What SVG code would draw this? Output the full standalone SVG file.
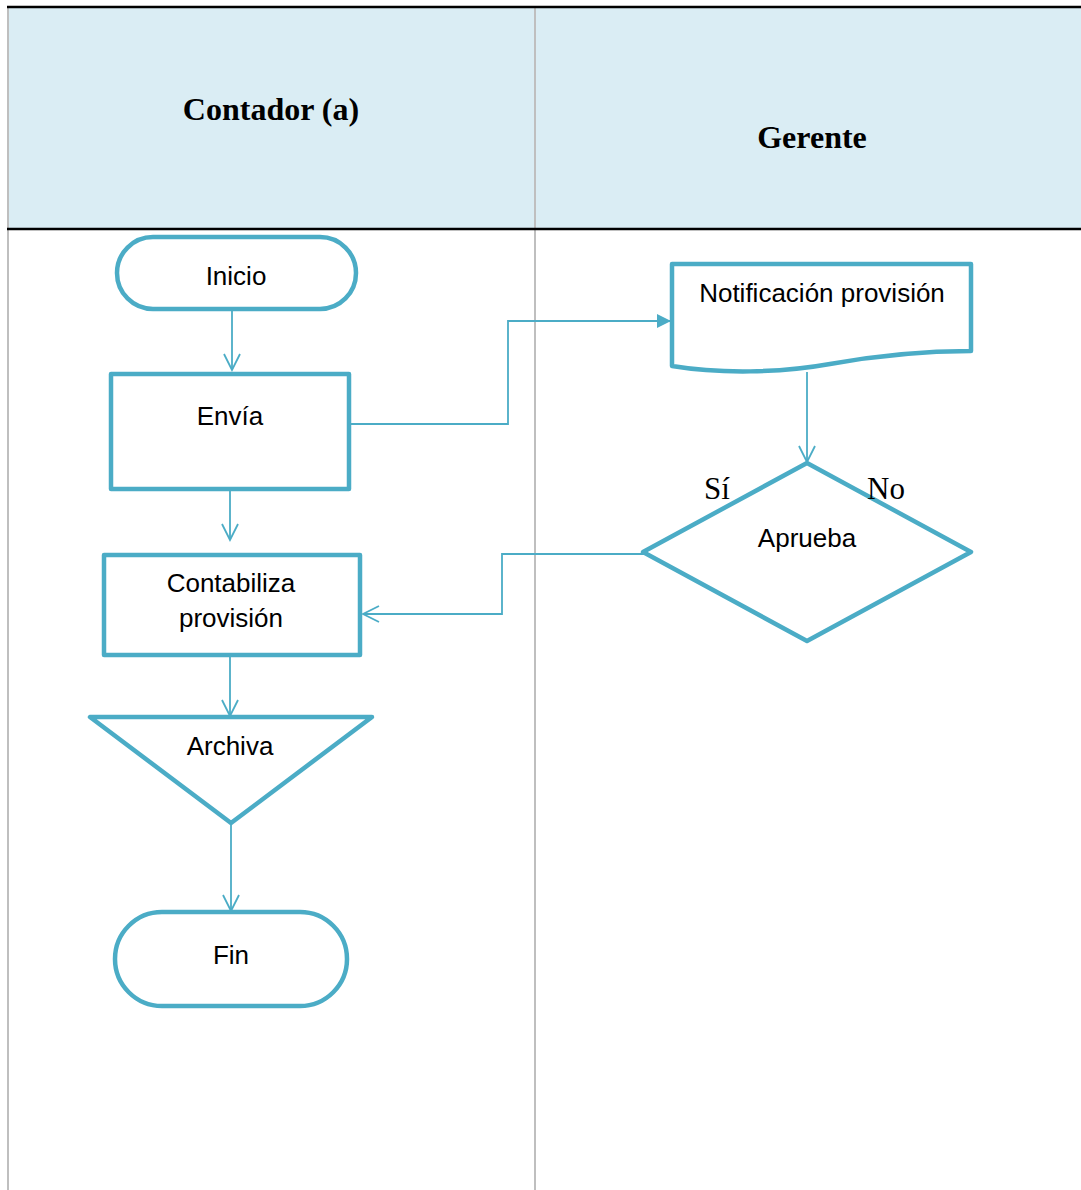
<svg xmlns="http://www.w3.org/2000/svg" width="1081" height="1190" viewBox="0 0 1081 1190">
  <style>
    .shape { fill: #ffffff; stroke: #4BACC6; stroke-width: 4.5; stroke-linejoin: round; }
    .conn { fill: none; stroke: #4BACC6; stroke-width: 1.8; }
    .label { font-family: "Liberation Sans", Arial, sans-serif; font-size: 26px; fill: #000; text-anchor: middle; }
    .head { font-family: "Liberation Serif", "Times New Roman", serif; font-size: 32px; font-weight: bold; fill: #000; text-anchor: middle; }
    .branch { font-family: "Liberation Serif", "Times New Roman", serif; font-size: 31px; fill: #000; text-anchor: middle; }
    .lane { stroke: #BFBFBF; stroke-width: 2; }
  </style>
  <defs>
    <marker id="open" viewBox="0 0 20 20" refX="18" refY="10" markerWidth="20" markerHeight="20" markerUnits="userSpaceOnUse" orient="auto">
      <path d="M2,2 L18,10 L2,18" fill="none" stroke="#4BACC6" stroke-width="1.8"/>
    </marker>
    <marker id="solid" viewBox="0 0 16 16" refX="15" refY="8" markerWidth="16" markerHeight="16" markerUnits="userSpaceOnUse" orient="auto">
      <path d="M1,1 L15,8 L1,15 Z" fill="#4BACC6"/>
    </marker>
  </defs>

  <!-- swimlane frame -->
  <rect x="0" y="0" width="1081" height="1190" fill="#ffffff"/>
  <rect x="8" y="8" width="1073" height="221" fill="#DAEDF4"/>
  <line class="lane" x1="8" y1="8" x2="8" y2="1190"/>
  <line class="lane" x1="535" y1="8" x2="535" y2="1190"/>
  <line x1="7" y1="7" x2="1081" y2="7" stroke="#000" stroke-width="2.5"/>
  <line x1="7" y1="229" x2="1081" y2="229" stroke="#000" stroke-width="2.5"/>
  <text class="head" x="271" y="120">Contador (a)</text>
  <text class="head" x="812" y="148">Gerente</text>

  <!-- connectors -->
  <g id="connectors">
    <path class="conn" d="M232,310 L232,370" marker-end="url(#open)"/>
    <path class="conn" d="M350,424 L508,424 L508,321 L671,321" marker-end="url(#solid)"/>
    <path class="conn" d="M807,372 L807,462" marker-end="url(#open)"/>
    <path class="conn" d="M644,554 L502,554 L502,614 L363,614" marker-end="url(#open)"/>
    <path class="conn" d="M230,490 L230,540" marker-end="url(#open)"/>
    <path class="conn" d="M230,656 L230,716" marker-end="url(#open)"/>
    <path class="conn" d="M231,824 L231,911" marker-end="url(#open)"/>
  </g>

  <g id="inicio">
    <rect class="shape" x="117" y="237" width="239" height="72" rx="36" ry="36"/>
    <text class="label" x="236" y="285">Inicio</text>
  </g>

  <g id="envia">
    <rect class="shape" x="111" y="374" width="238" height="115"/>
    <text class="label" x="230" y="425">Envía</text>
  </g>

  <g id="notificacion">
    <path class="shape" d="M672,264 L971,264 L971,351 C930,351 880,355 830,364 C780,373 720,374 672,366 Z"/>
    <text class="label" x="822" y="302">Notificación provisión</text>
  </g>

  <g id="aprueba">
    <path class="shape" d="M807,463 L971,552 L807,641 L643,552 Z"/>
    <text class="label" x="807" y="547">Aprueba</text>
    <text class="branch" x="717" y="499">Sí</text>
    <text class="branch" x="886" y="499">No</text>
  </g>

  <g id="contabiliza">
    <rect class="shape" x="104" y="555" width="256" height="100"/>
    <text class="label" x="231" y="592">Contabiliza</text>
    <text class="label" x="231" y="627">provisión</text>
  </g>

  <g id="archiva">
    <path class="shape" d="M90,717 L372,717 L231,823 Z"/>
    <text class="label" x="230" y="755">Archiva</text>
  </g>

  <g id="fin">
    <rect class="shape" x="115" y="912" width="232" height="94" rx="47" ry="47"/>
    <text class="label" x="231" y="964">Fin</text>
  </g>
</svg>
